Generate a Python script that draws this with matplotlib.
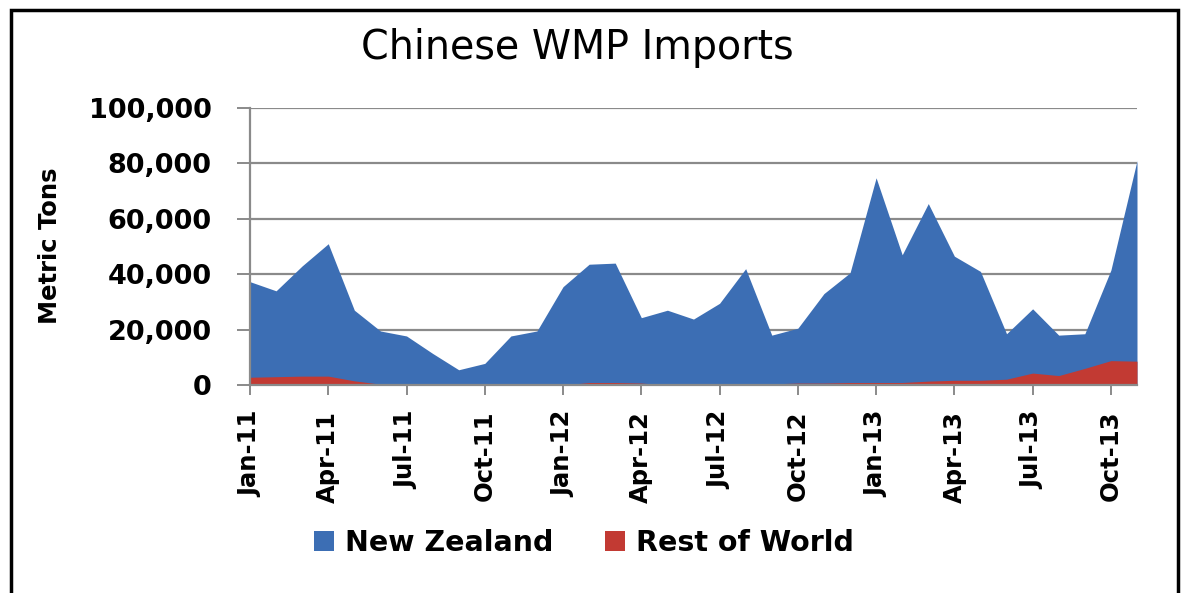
import numpy as np
import matplotlib
matplotlib.use("Agg")
import matplotlib.pyplot as plt
from matplotlib.patches import Rectangle

# ---- data ----
months = ["Jan-11", "Feb-11", "Mar-11", "Apr-11", "May-11", "Jun-11", "Jul-11", "Aug-11", "Sep-11",
          "Oct-11", "Nov-11", "Dec-11", "Jan-12", "Feb-12", "Mar-12", "Apr-12", "May-12", "Jun-12",
          "Jul-12", "Aug-12", "Sep-12", "Oct-12", "Nov-12", "Dec-12", "Jan-13", "Feb-13", "Mar-13",
          "Apr-13", "May-13", "Jun-13", "Jul-13", "Aug-13", "Sep-13", "Oct-13", "Nov-13"]
new_zealand = [37300, 34000, 43000, 51000, 27000, 19500, 17700, 11400, 5500, 7800, 17700, 19500,
               35500, 43600, 44000, 24300, 27000, 23800, 29500, 42000, 18000, 20500, 33000, 40500,
               74800, 47000, 65500, 46500, 41000, 18500, 27500, 18000, 18500, 41500, 81000]
rest_of_world = [2800, 3000, 3200, 3200, 1500, 300, 0, 0, 0, 0, 0, 0,
                 0, 900, 900, 700, 0, 0, 0, 0, 400, 700, 700, 900,
                 900, 900, 1400, 1700, 1700, 2100, 4300, 3400, 6000, 8800, 8600]
tick_labels = ["Jan-11", "Apr-11", "Jul-11", "Oct-11", "Jan-12", "Apr-12", "Jul-12", "Oct-12",
               "Jan-13", "Apr-13", "Jul-13", "Oct-13"]
y_ticks = [0, 20000, 40000, 60000, 80000, 100000]
series_names = ["New Zealand", "Rest of World"]
title = "Chinese WMP Imports"
y_label = "Metric Tons"

blue = "#3c6eb4"
red = "#c23a33"
gray = "#8a8a8a"

W, H = 1184, 593
fig = plt.figure(figsize=(W / 100, H / 100), dpi=100)
fig.patch.set_facecolor("white")

left, right, top, bottom = 250, 1137, 108, 385
ax = fig.add_axes([left / W, 1 - bottom / H, (right - left) / W, (bottom - top) / H])

x = np.arange(len(months))
h1 = ax.fill_between(x, new_zealand, color=blue, lw=0, label=series_names[0])
h2 = ax.fill_between(x, rest_of_world, color=red, lw=0, label=series_names[1])

ax.set_xlim(0, len(months) - 1)
ax.set_ylim(0, 100000)
ax.set_axisbelow(True)
ax.yaxis.grid(True, color=gray, lw=1.6)

tick_pos = [months.index(m) for m in tick_labels]
ax.set_xticks(tick_pos)
ax.set_xticklabels(tick_labels, rotation=90, fontsize=17.5, fontweight="bold")
ax.set_yticks(y_ticks)
ax.set_yticklabels([f"{v:,}" for v in y_ticks], fontsize=19.5, fontweight="bold")
ax.tick_params(axis="x", direction="out", length=7.5, width=1.4, color=gray, pad=11)
ax.tick_params(axis="y", direction="out", length=9.5, width=1.4, color=gray, pad=18)

for s in ["top", "right"]:
    ax.spines[s].set_visible(False)
for s in ["left", "bottom"]:
    ax.spines[s].set_color(gray)
    ax.spines[s].set_linewidth(1.6)

fig.text(0.488, 1 - 48 / H, title, ha="center", va="center", fontsize=28.5)
fig.text(50 / W, 1 - 246 / H, y_label, ha="center", va="center", rotation=90,
         fontsize=17.5, fontweight="bold")

fig.legend(handles=[h1, h2], labels=series_names, loc="center",
           bbox_to_anchor=(584 / W, 1 - 543 / H), ncol=2, frameon=False,
           prop={"size": 20.5, "weight": "bold"}, handlelength=0.7, handleheight=0.7,
           handletextpad=0.4, columnspacing=1.8)

# outer frame
fig.patches.append(Rectangle((11 / W, -0.05), (1178 - 11) / W, 1.05 - 10 / H,
                             transform=fig.transFigure, fill=False, lw=2.5,
                             edgecolor="black", figure=fig))

fig.savefig("out.png", dpi=100, facecolor="white")
